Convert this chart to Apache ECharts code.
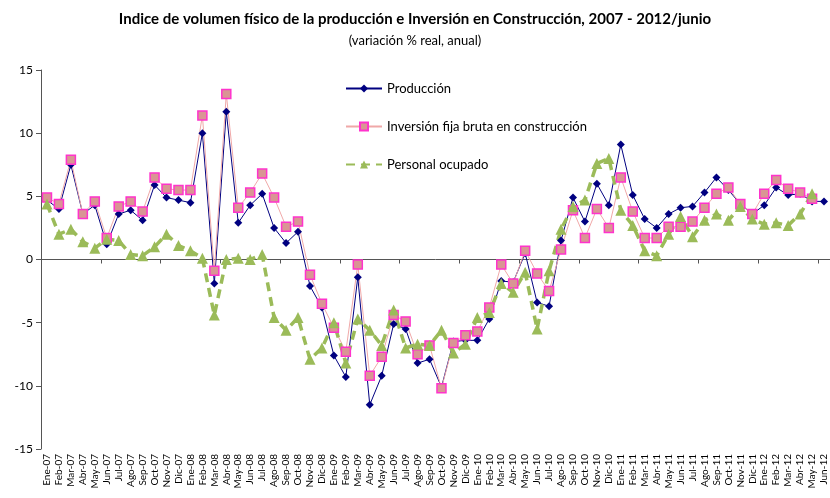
<!DOCTYPE html>
<html>
<head>
<meta charset="utf-8">
<script src="https://cdn.jsdelivr.net/npm/echarts@6/dist/echarts.min.js"></script>
<style>
  html, body { margin: 0; padding: 0; background: #fff; }
  #chart { width: 830px; height: 498px; }
</style>
</head>
<body>
<div id="chart"></div>
<script>
// meses Ene-07 .. Jun-12
const meses = ['Ene','Feb','Mar','Abr','May','Jun','Jul','Ago','Sep','Oct','Nov','Dic']
const categorias = []
for (let a = 7; a <= 12; a++) {
  meses.forEach((m, i) => {
    if (a === 12 && i > 5) return
    categorias.push(m + '-' + String(a).padStart(2, '0'))
  })
}

const produccion = [
  4.7, 4.0, 7.5, 3.6, 4.3, 1.2, 3.6, 3.9, 3.1, 5.9, 4.9, 4.7,
  4.5, 10.0, -1.9, 11.7, 2.9, 4.3, 5.2, 2.5, 1.3, 2.2, -2.1, -3.8,
  -7.6, -9.3, -1.4, -11.5, -9.2, -5.1, -5.5, -8.2, -7.9, -10.1, -6.5, -6.4,
  -6.4, -4.7, -1.7, -1.8, 0.5, -3.4, -3.7, 1.5, 4.9, 3.0, 6.0, 4.3,
  9.1, 5.1, 3.2, 2.5, 3.6, 4.1, 4.2, 5.3, 6.5, 5.5, 4.4, 3.6,
  4.3, 5.7, 5.1, 5.2, 4.6, 4.6
]

const inversion = [
  4.9, 4.4, 7.9, 3.6, 4.6, 1.7, 4.2, 4.6, 3.8, 6.5, 5.6, 5.5,
  5.5, 11.4, -0.9, 13.1, 4.1, 5.3, 6.8, 4.9, 2.6, 3.0, -1.2, -3.5,
  -5.4, -7.3, -0.4, -9.2, -7.7, -4.4, -4.9, -7.5, -6.8, -10.2, -6.6, -6.0,
  -5.7, -3.8, -0.4, -1.9, 0.7, -1.1, -2.5, 0.8, 3.9, 1.7, 4.0, 2.5,
  6.5, 3.8, 1.7, 1.7, 2.6, 2.6, 3.0, 4.1, 5.2, 5.7, 4.4, 3.6,
  5.2, 6.3, 5.6, 5.3, 4.8, null
]

const personal = [
  4.4, 2.0, 2.4, 1.4, 0.9, 1.6, 1.5, 0.4, 0.3, 1.0, 2.0, 1.1,
  0.7, 0.1, -4.4, 0.0, 0.1, 0.0, 0.4, -4.6, -5.6, -4.6, -7.9, -7.0,
  -5.0, -8.2, -4.7, -5.6, -6.8, -4.0, -7.0, -6.7, -6.8, -5.6, -7.4, -6.7,
  -4.6, -4.2, -1.9, -2.6, -1.0, -5.5, -0.9, 2.4, 4.2, 4.7, 7.6, 8.0,
  3.9, 2.7, 0.7, 0.3, 2.0, 3.4, 1.8, 3.1, 3.6, 3.1, 4.2, 3.2,
  2.8, 2.9, 2.7, 3.6, 5.2, null
]

const fuente = 'Lato, "Open Sans", sans-serif'

const chart = echarts.init(document.getElementById('chart'))
chart.setOption({
  animation: false,
  textStyle: { fontFamily: fuente },
  title: [
    {
      text: 'Indice de volumen físico de la producción e Inversión en Construcción, 2007 - 2012/junio',
      left: 'center',
      top: 7,
      textStyle: { fontSize: 15, fontWeight: 'bold', color: '#000', fontFamily: fuente }
    },
    {
      text: '(variación % real, anual)',
      left: 'center',
      top: 29,
      textStyle: { fontSize: 13, fontWeight: 'normal', color: '#000', fontFamily: fuente }
    }
  ],
  legend: {
    orient: 'vertical',
    left: 340,
    top: 77,
    itemGap: 25,
    itemWidth: 36,
    itemHeight: 10,
    textStyle: { fontSize: 13, color: '#000', fontFamily: fuente },
    data: ['Producción', 'Inversión fija bruta en construcción', 'Personal ocupado']
  },
  grid: { left: 41, top: 70, width: 792, bottom: 49 },
  xAxis: [
    {
      type: 'category',
      data: categorias,
      position: 'bottom',
      axisLine: { show: false, onZero: false },
      axisTick: { show: false },
      axisLabel: {
        rotate: 90,
        interval: 0,
        fontSize: 10,
        color: '#000',
        margin: 5,
        fontFamily: fuente
      }
    },
    {
      type: 'category',
      data: categorias,
      position: 'bottom',
      axisLine: { show: true, onZero: true, lineStyle: { color: '#555', width: 1 } },
      axisTick: { show: true, length: 4, lineStyle: { color: '#555' } },
      axisLabel: { show: false }
    }
  ],
  yAxis: {
    type: 'value',
    min: -15,
    max: 15,
    interval: 5,
    axisLine: { show: true, lineStyle: { color: '#555', width: 1 } },
    axisTick: { show: true, length: 5, lineStyle: { color: '#555' } },
    splitLine: { show: false },
    axisLabel: { fontSize: 12, color: '#000', margin: 8, fontFamily: fuente }
  },
  series: [
    {
      name: 'Producción',
      type: 'line',
      data: produccion,
      symbol: 'diamond',
      symbolSize: 8,
      lineStyle: { color: '#000080', width: 1 },
      itemStyle: { color: '#000080' }
    },
    {
      name: 'Inversión fija bruta en construcción',
      type: 'line',
      data: inversion,
      symbol: 'rect',
      symbolSize: 9,
      lineStyle: { color: '#f0a8a8', width: 1 },
      itemStyle: { color: '#d99594', borderColor: '#ff33cc', borderWidth: 1.5 }
    },
    {
      name: 'Personal ocupado',
      type: 'line',
      data: personal,
      symbol: 'triangle',
      symbolSize: 11,
      lineStyle: { color: '#9bbb59', width: 3.5, type: [9, 6] },
      itemStyle: { color: '#9bbb59' }
    }
  ]
})
</script>
</body>
</html>
